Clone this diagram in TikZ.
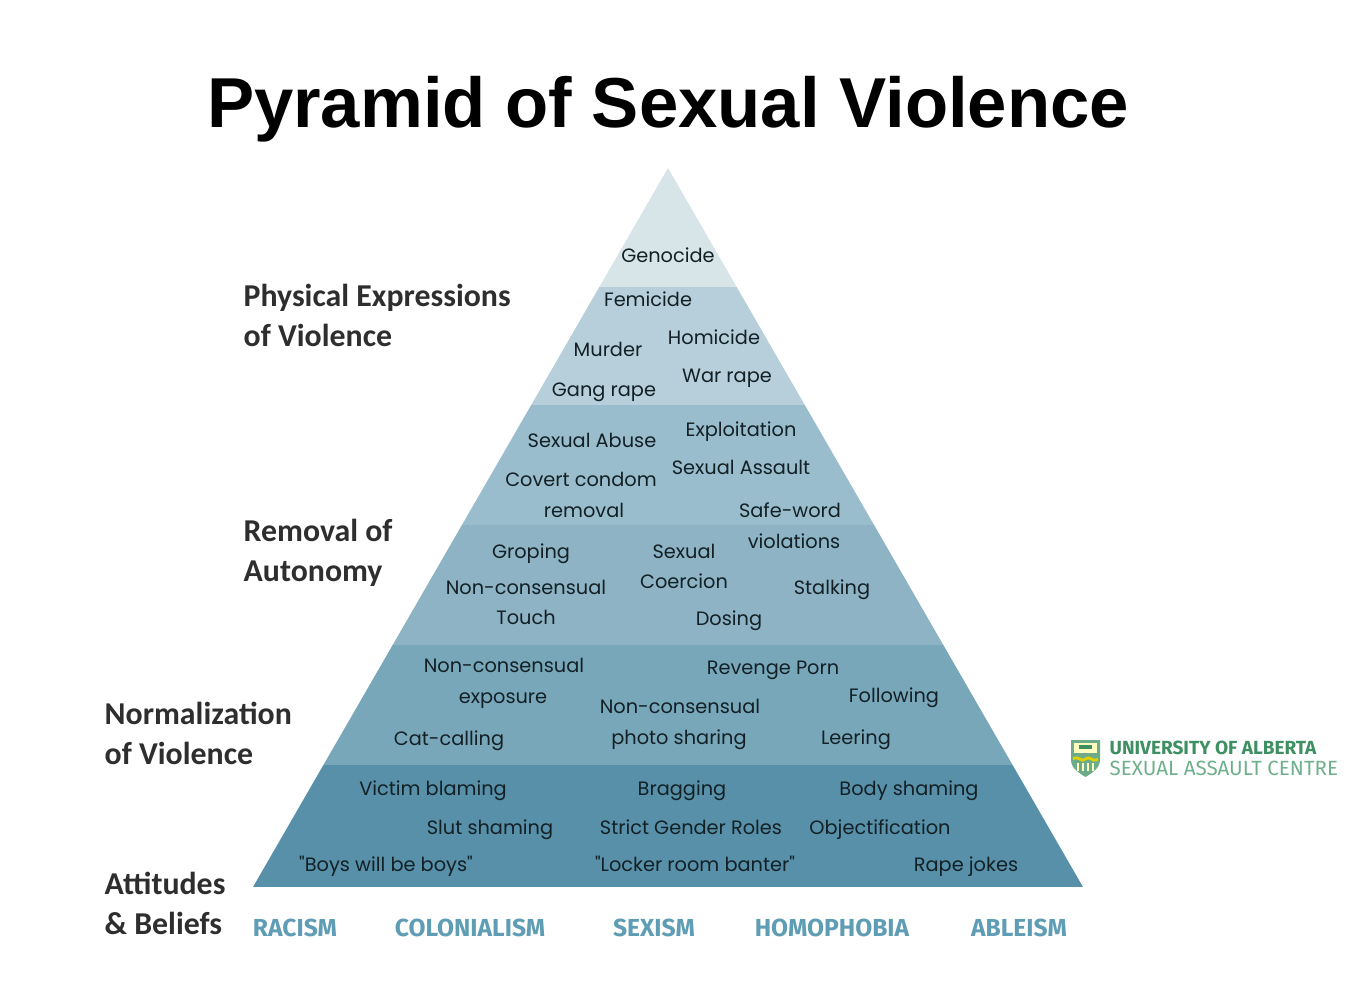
\documentclass[tikz,border=0pt]{standalone}
\usepackage{fontspec}
\setmainfont{Liberation Sans}
\newfontfamily\bandfont{Poppins}
\newfontfamily\headfont{Carlito}
\newfontfamily\isofont{Fira Sans}
\definecolor{bandA}{HTML}{D7E5E9}
\definecolor{bandB}{HTML}{B6CFDA}
\definecolor{bandC}{HTML}{9ABDCD}
\definecolor{bandD}{HTML}{8DB3C5}
\definecolor{bandE}{HTML}{78A7BA}
\definecolor{bandF}{HTML}{5790A8}
\definecolor{isoblue}{HTML}{5F9DB5}
\definecolor{uagreen}{HTML}{3E8F62}
\definecolor{ualight}{HTML}{6FB08C}
\tikzset{
  bandtext/.style={font=\bandfont\fontsize{5.5pt}{7pt}\selectfont,text=black!78!bandF,inner sep=0pt,text height=4.6pt,text depth=1.4pt,yshift=-.5pt},
  headtext/.style={font=\headfont\bfseries\fontsize{9.05pt}{11.4pt}\selectfont,text=black!82,align=left,anchor=west,inner sep=0pt},
  isotext/.style={font=\isofont\bfseries\fontsize{7pt}{9pt}\selectfont,text=isoblue,inner sep=0pt}
}
\begin{document}
\begin{tikzpicture}[x=.01cm,y=-.01cm]
\useasboundingbox (0,0) rectangle (1356,1000);
\node[font=\bfseries\fontsize{20.1pt}{24pt}\selectfont,inner sep=0pt] (title) at (668,109) {Pyramid of Sexual Violence};
% bands of the pyramid
\begin{scope}
\clip (668,168)--(1083,887)--(253,887)--cycle;
\foreach \ytop/\ybot/\col in {168/287/bandA,287/405/bandB,405/525/bandC,525/645/bandD,645/765/bandE,765/887/bandF}
{\fill[\col] (240,\ytop) rectangle (1100,\ybot);}
\end{scope}
% labels inside
\foreach \x/\y/\lab/\nm in {668/255/Genocide/gen,648/299/Femicide/fem,714/337/Homicide/hom,608/349/Murder/mur,727/375/War rape/war,604/389/Gang rape/gang,
741/429/Exploitation/expl,592/440/Sexual Abuse/abuse,741/467/Sexual Assault/assault,581/479/Covert condom/covert,584/510/removal/remov,790/510/Safe-word/safe,794/541/violations/viol,
531/551/Groping/grop,684/551/Sexual/sex,684/581/Coercion/coer,526/587/Non-consensual/ntouch,832/587/Stalking/stalk,526/617/Touch/touch,729/618/Dosing/dos,
504/665/Non-consensual/nexp,773/667/Revenge Porn/rev,503/696/exposure/expo,894/695/Following/foll,680/706/Non-consensual/nphoto,679/737/photo sharing/photo,449/738/Cat-calling/cat,856/737/Leering/leer,
433/788/Victim blaming/vict,682/788/Bragging/brag,909/788/Body shaming/body,490/827/Slut shaming/slut,691/827/Strict Gender Roles/strict,880/827/Objectification/obj,386/864/"Boys will be boys"/boys,695/864/"Locker room banter"/locker,966/864/Rape jokes/rape}
{\node[bandtext] (\nm) at (\x,\y) {\lab};}
% headings on the left
\node[headtext] (phys) at (243,315) {Physical Expressions\\of Violence};
\node[headtext] (auton) at (243,553) {Removal of\\Autonomy};
\node[headtext] (norm) at (104,733) {Normalization\\of Violence};
\node[headtext] (atti) at (104,903) {Attitudes\\\&~Beliefs};
% row under the base
\foreach \x/\lab/\nm in {295/RACISM/rac,470/COLONIALISM/colo,654/SEXISM/sexi,832/HOMOPHOBIA/homo,1019/ABLEISM/able}
{\node[isotext] (\nm) at (\x,928) {\lab};}
% logo
\fill[uagreen!75] (1071,740)--(1100,740)--(1100,760)..controls (1100,768) and (1092,773)..(1085.5,777)..controls (1079,773) and (1071,768)..(1071,760)--cycle;
\fill[yellow!25!white] (1074,743) rectangle (1097,753);
\fill[uagreen] (1079,745) rectangle (1092,749);
\draw[yellow!70!olive,line width=.8pt] (1073,759) .. controls (1079,755) and (1081,763) .. (1085.5,759) .. controls (1090,755) and (1092,763) .. (1098,759);
\foreach \x in {1078,1083,1088,1093}
{\draw[yellow!25!white,line width=.5pt] (\x,763)--(\x,771);}
\node[font=\isofont\bfseries\fontsize{5.4pt}{6pt}\selectfont,text=uagreen,anchor=west,inner sep=0pt] (ualta) at (1109,748) {UNIVERSITY OF ALBERTA};
\node[font=\isofont\fontsize{5.85pt}{6pt}\selectfont,text=ualight,anchor=west,inner sep=0pt] (sacentre) at (1109,768) {SEXUAL ASSAULT CENTRE};
\end{tikzpicture}
\end{document}
